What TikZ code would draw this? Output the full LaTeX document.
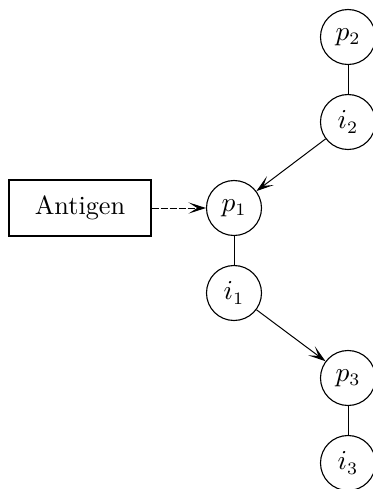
\documentclass[tikz,border=0pt]{standalone}
\usetikzlibrary{arrows.meta}
\begin{document}
\begin{tikzpicture}[x=0.4pt,y=-0.4pt,
  every node/.style={font=\fontsize{10.5}{12}\selectfont},
  cell/.style={draw,circle,minimum size=55*0.4pt,inner sep=0pt,line width=0.45pt},
  box/.style={draw,rectangle,minimum width=142*0.4pt,minimum height=56*0.4pt,inner sep=0pt,line width=0.6pt},
  arr/.style={-{Stealth[length=7pt,width=4.5pt,inset=3.5pt]},line width=0.4pt},
  link/.style={line width=0.35pt}]
\useasboundingbox (0,0) rectangle (373,489);
\node[box] (ag) at (80,208) {Antigen};
\node[cell] (p1) at (234,208) {$p_1$};
\node[cell] (i1) at (234,293) {$i_1$};
\node[cell] (p2) at (348,37) {$p_2$};
\node[cell] (i2) at (348,122) {$i_2$};
\node[cell] (p3) at (348,378) {$p_3$};
\node[cell] (i3) at (348,463) {$i_3$};
\draw[arr,dash pattern=on 2.8pt off 0.8pt] (ag) -- (p1);
\draw[link] (p1) -- (i1);
\draw[link] (p2) -- (i2);
\draw[link] (p3) -- (i3);
\draw[arr] (i2) -- (p1);
\draw[arr] (i1) -- (p3);
\end{tikzpicture}
\end{document}
